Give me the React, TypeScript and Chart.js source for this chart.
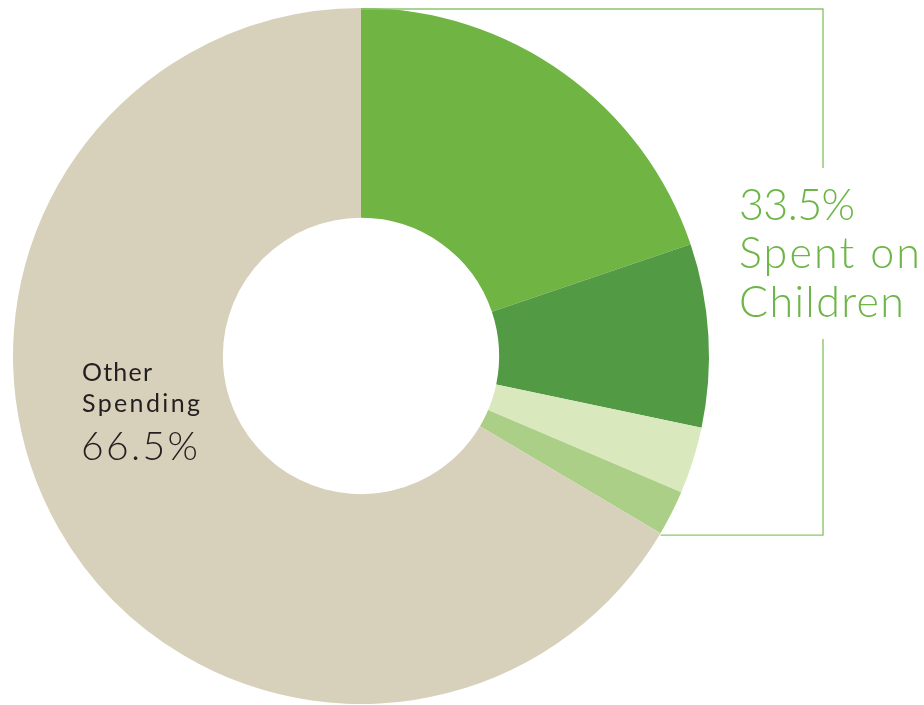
import React, { useEffect, useRef } from "react";
import { Chart, registerables } from "chart.js";

Chart.register(...registerables);

const categories = ["Children A", "Children B", "Children C", "Children D", "Other Spending"];
const values = [19.8, 8.5, 3.1, 2.1, 66.5];
const colors = ["#70b544", "#529b44", "#d9e8bd", "#abcf87", "#d7d1bb"];
const childrenLabel = ["33.5%", "Spent on", "Children"];
const otherLabel = ["Other", "Spending"];
const otherValue = "66.5%";

const FONT = "Lato, 'Open Sans', sans-serif";

function textFit(ctx: any, text: string, x: number, y: number, width: number) {
  ctx.letterSpacing = "0px";
  const n = Array.from(text).length;
  const natural = ctx.measureText(text).width;
  const extra = n > 1 ? (width - natural) / (n - 1) : 0;
  ctx.letterSpacing = `${extra.toFixed(2)}px`;
  ctx.fillText(text, x, y);
  ctx.letterSpacing = "0px";
}

const annotationPlugin = {
  id: "annot",
  afterDraw(chart: any) {
    const ctx = chart.ctx;
    const meta = chart.getDatasetMeta(0);
    const first = meta.data[0];
    const lastGreen = meta.data[3];
    const cx = first.x;
    const cy = first.y;
    const r = first.outerRadius;
    const endA = lastGreen.endAngle;
    const ex = cx + Math.cos(endA) * r;
    const ey = cy + Math.sin(endA) * r;
    const bx = 823;
    ctx.save();
    ctx.strokeStyle = "#8cc56c";
    ctx.lineWidth = 1.4;
    ctx.beginPath();
    ctx.moveTo(cx, cy - r + 1);
    ctx.lineTo(bx, cy - r + 1);
    ctx.lineTo(bx, 168);
    ctx.moveTo(bx, 339);
    ctx.lineTo(bx, ey + 2);
    ctx.lineTo(ex, ey + 2);
    ctx.stroke();

    ctx.fillStyle = "#6cb546";
    ctx.textBaseline = "alphabetic";
    ctx.textAlign = "left";
    ctx.font = `300 43px ${FONT}`;
    textFit(ctx, childrenLabel[0], 739, 220, 116);
    textFit(ctx, childrenLabel[1], 739, 268, 181);
    textFit(ctx, childrenLabel[2], 739, 317, 165);

    ctx.fillStyle = "#231f20";
    ctx.font = `400 25px ${FONT}`;
    textFit(ctx, otherLabel[0], 82, 381, 70);
    textFit(ctx, otherLabel[1], 82, 412, 118);
    ctx.font = `300 39px ${FONT}`;
    textFit(ctx, otherValue, 81, 460, 117);
    ctx.restore();
  },
};

export default function App() {
  const ref = useRef<HTMLCanvasElement>(null);
  useEffect(() => {
    document.body.style.margin = "0";
    const chart = new Chart(ref.current!, {
      type: "doughnut",
      data: {
        labels: categories,
        datasets: [
          {
            data: values,
            backgroundColor: colors,
            borderWidth: 0,
          },
        ],
      },
      options: {
        animation: false,
        responsive: false,
        cutout: "39.7%",
        layout: { padding: { left: 13, top: 8, right: 215, bottom: 1 } },
        plugins: {
          legend: { display: false },
          tooltip: { enabled: false },
        },
      },
      plugins: [annotationPlugin],
    });
    return () => chart.destroy();
  }, []);
  return (
    <div style={{ position: "absolute", left: 0, top: 0, width: 924, height: 705, background: "#fff" }}>
      <canvas ref={ref} width={924} height={705} style={{ width: 924, height: 705 }} />
    </div>
  );
}
